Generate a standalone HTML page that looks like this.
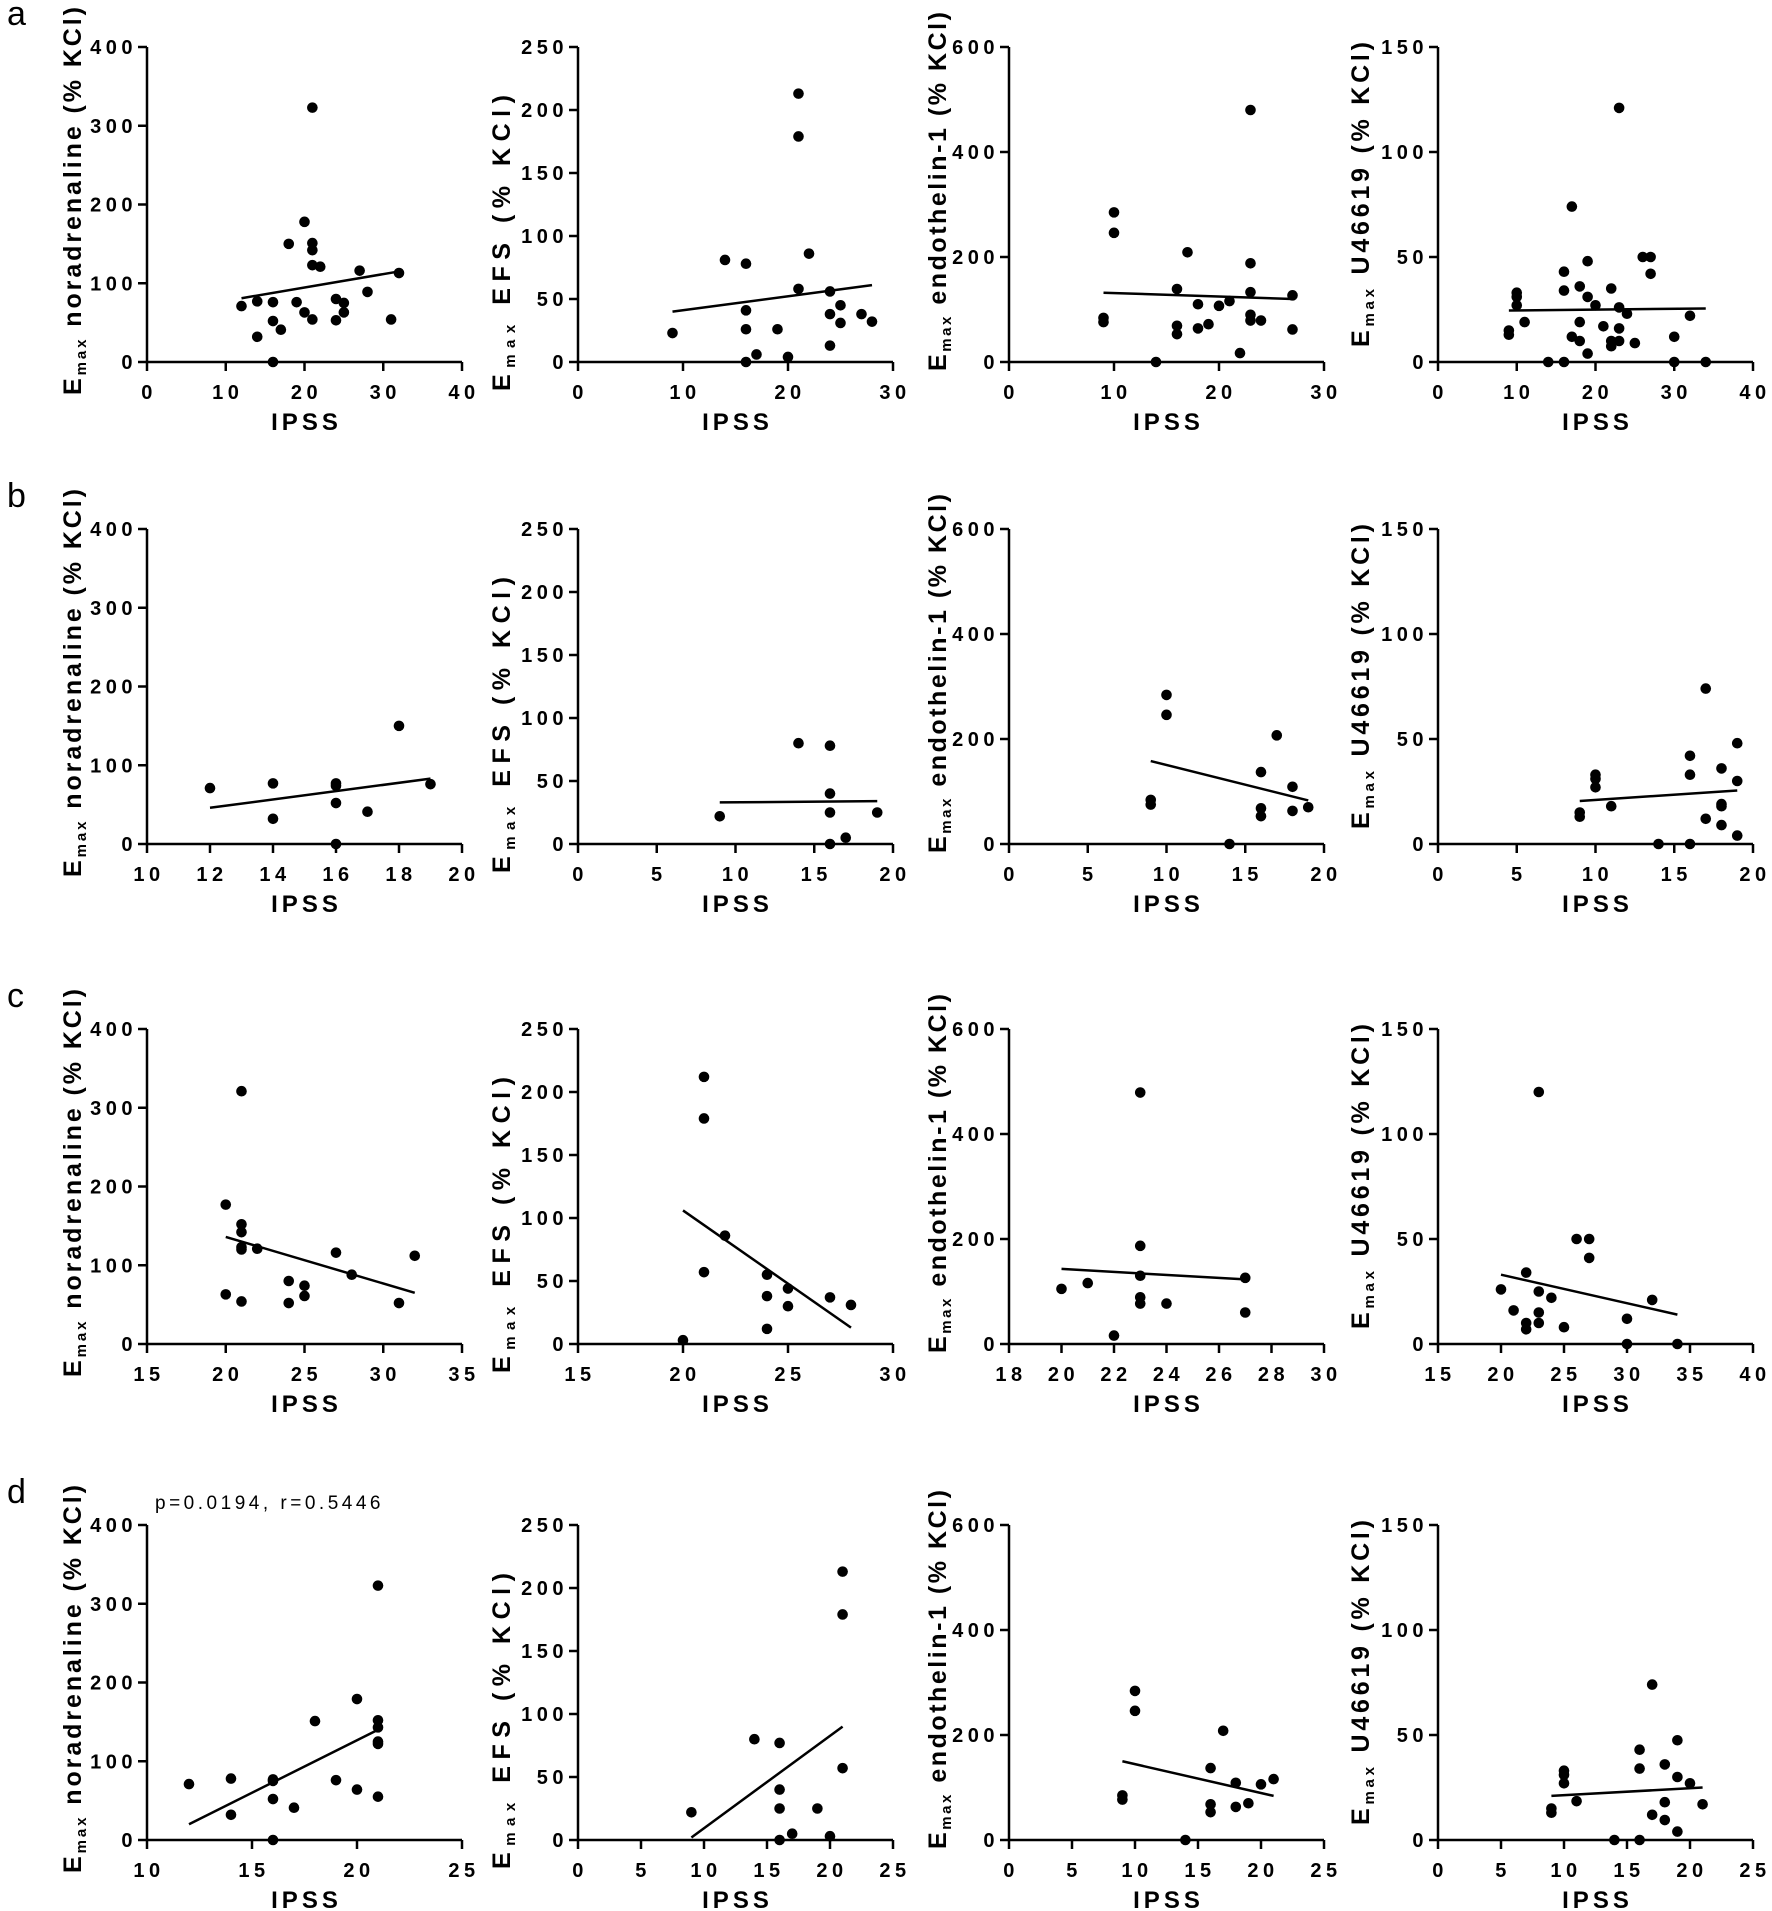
<!DOCTYPE html>
<html><head><meta charset="utf-8"><style>
html,body{margin:0;padding:0;background:#fff;}
svg{display:block;font-family:"Liberation Sans",Arial,sans-serif;}
.tk{font-weight:bold;font-size:20px;letter-spacing:4.5px;}
.yl{font-weight:bold;font-size:25px;}
.xl{font-weight:bold;font-size:24px;letter-spacing:4px;}
.pl{font-size:34px;}
</style></head><body>
<svg id="fig" width="1772" height="1911" viewBox="0 0 1772 1911" xmlns="http://www.w3.org/2000/svg"></svg>
<script>
// ---- Row a ----
const a1x=[12,14,14,16,16,16,17,18,19,20,20,21,21,21,21,21,22,24,24,25,25,27,28,31,32];
const a1y=[71,77,32,76,52,0,41,150,76,178,63,323,151,142,123,54,121,80,53,75,63,116,89,54,113];
const a1fx=[12,32], a1fy=[81,115];
const a2x=[9,14,16,16,16,16,17,19,20,21,21,21,22,24,24,24,25,25,27,28];
const a2y=[23,81,78,41,26,0,6,26,4,213,179,58,86,56,38,13,45,31,38,32];
const a2fx=[9,28], a2fy=[40,61];
const a3x=[9,9,10,10,14,16,16,16,17,18,18,19,20,21,22,23,23,23,23,23,24,27,27];
const a3y=[84,76,285,246,0,139,69,53,209,110,64,72,107,116,17,480,188,133,90,79,79,127,62];
const a3fx=[9,27], a3fy=[132,120];
const a4x=[9,9,10,10,10,11,14,16,16,16,17,17,18,18,18,19,19,19,20,21,22,22,22,23,23,23,23,24,25,26,27,27,30,30,32,34];
const a4y=[15,13,33,31,27,19,0,43,34,0,74,12,36,19,10,48,31,4,27,17,35,10,7.5,121,26,16,10,23,9,50,50,42,12,0,22,0];
const a4fx=[9,34], a4fy=[24.5,25.5];
// ---- Row b ----
const b1x=[12,14,14,16,16,16,16,17,18,19];
const b1y=[71,77,32,77,74,52,0,41,150,76];
const b1fx=[12,19], b1fy=[46,83];
const b2x=[9,14,16,16,16,16,17,19];
const b2y=[22,80,78,40,25,0,5,25];
const b2fx=[9,19], b2fy=[33,34];
const b3x=[9,9,10,10,14,16,16,16,17,18,18,19];
const b3y=[84,75,284,246,0,137,68,53,207,109,63,70];
const b3fx=[9,19], b3fy=[158,83];
const b4x=[9,9,10,10,10,11,14,16,16,16,17,17,18,18,18,18,19,19,19];
const b4y=[15,13,33,31,27,18,0,42,33,0,74,12,36,19,18,9,48,30,4];
const b4fx=[9,19], b4fy=[20.5,25.5];
// ---- Row c ----
const c1x=[20,20,21,21,21,21,21,21,22,24,24,25,25,27,28,31,32];
const c1y=[177,63,321,152,142,123,120,54,121,80,52,74,61,116,88,52,112];
const c1fx=[20,32], c1fy=[136,65];
const c2x=[20,21,21,21,22,24,24,24,25,25,27,28];
const c2y=[3,212,179,57,86,55,38,12,44,30,37,31];
const c2fx=[20,28], c2fy=[106,13];
const c3x=[20,21,22,23,23,23,23,23,24,27,27];
const c3y=[105,116,16,479,187,130,89,77,77,126,60];
const c3fx=[20,27], c3fy=[143,123];
const c4x=[20,21,22,22,22,23,23,23,23,24,25,26,27,27,30,30,32,34];
const c4y=[26,16,34,10,7,120,25,15,10,22,8,50,50,41,12,0,21,0];
const c4fx=[20,34], c4fy=[33,14];
// ---- Row d ----
const d1x=[12,14,14,16,16,16,16,17,18,19,20,20,21,21,21,21,21,21];
const d1y=[71,78,32,77,75,52,0,41,151,76,179,64,323,152,143,125,122,55];
const d1fx=[12,21], d1fy=[20,140];
const d2x=[9,14,16,16,16,16,17,19,20,21,21,21];
const d2y=[22,80,77,40,25,0,5,25,3,213,179,57];
const d2fx=[9,21], d2fy=[2,90];
const d3x=[9,9,10,10,14,16,16,16,17,18,18,19,20,21];
const d3y=[85,77,284,246,0,137,68,53,208,109,63,70,106,116];
const d3fx=[9,21], d3fy=[150,84];
const d4x=[9,9,10,10,10,11,14,16,16,16,17,17,18,18,18,19,19,19,20,21];
const d4y=[15,13,33,31,27,18.5,0,43,34,0,74,12,36,18,9.5,47.5,30,4,27,17];
const d4fx=[9,21], d4fy=[21,25];
// ---- Axes ----
const yTicks1=[0,100,200,300,400];
const yTicks2=[0,50,100,150,200,250];
const yTicks3=[0,200,400,600];
const yTicks4=[0,50,100,150];
const xTicksA1=[0,10,20,30,40], xTicksA2=[0,10,20,30], xTicksA3=[0,10,20,30], xTicksA4=[0,10,20,30,40];
const xTicksB1=[10,12,14,16,18,20], xTicksB2=[0,5,10,15,20], xTicksB3=[0,5,10,15,20], xTicksB4=[0,5,10,15,20];
const xTicksC1=[15,20,25,30,35], xTicksC2=[15,20,25,30], xTicksC3=[18,20,22,24,26,28,30], xTicksC4=[15,20,25,30,35,40];
const xTicksD1=[10,15,20,25], xTicksD2=[0,5,10,15,20,25], xTicksD3=[0,5,10,15,20,25], xTicksD4=[0,5,10,15,20,25];
const yNames=["noradrenaline","EFS","endothelin-1","U46619"];
const rowLetters=["a","b","c","d"];

const NS="http://www.w3.org/2000/svg";
const svg=document.getElementById('fig');
const colX=[147,578,1009,1438], rowTop=[47,529,1029,1525], W=315, H=315;
const labStart=[348,344,324,300], labLen=[388,296,359,305], labOff=[-75,-77,-72,-78];
function mk(tag,attrs,parent){const e=document.createElementNS(NS,tag);for(const k in attrs)e.setAttribute(k,attrs[k]);(parent||svg).appendChild(e);return e;}

function panel(r,c,xs,ys,fx,fy,xt,yt,id){
  const g=mk('g',{});
  
  
  const x0=colX[c], y0=rowTop[r]+H, xmin=xt[0], xmax=xt[xt.length-1], ymax=yt[yt.length-1];
  const sx=v=>x0+(v-xmin)/(xmax-xmin)*W, sy=v=>y0-v/ymax*H;
  const ya=mk('line',{x1:x0,y1:y0,x2:x0,y2:rowTop[r],stroke:'#000','stroke-width':2.5},g);
  
  
  const xa=mk('line',{x1:x0,y1:y0,x2:x0+W,y2:y0,stroke:'#000','stroke-width':2.5},g);
  
  
  yt.forEach(v=>{
    mk('line',{x1:x0-9,y1:sy(v),x2:x0,y2:sy(v),stroke:'#000','stroke-width':2.5},g);
    const t=mk('text',{x:x0-10,y:sy(v)+7,'text-anchor':'end',class:'tk'},g);t.textContent=v;
    
    
  });
  xt.forEach(v=>{
    mk('line',{x1:sx(v),y1:y0,x2:sx(v),y2:y0+9,stroke:'#000','stroke-width':2.5},g);
    const t=mk('text',{x:sx(v)+2,y:y0+37,'text-anchor':'middle',class:'tk'},g);t.textContent=v;
    
    
  });
  const xl=mk('text',{x:x0+W/2+2,y:y0+68,'text-anchor':'middle',class:'xl'},g);xl.textContent='IPSS';
  
  
  const cx=x0+labOff[c], cy=rowTop[r]+labStart[c];
  const yl=mk('text',{x:cx,y:cy,'text-anchor':'start',class:'yl',transform:`rotate(-90 ${cx} ${cy})`,dy:9,textLength:labLen[c],lengthAdjust:'spacing'},g);
  
  
  const s1=mk('tspan',{},yl);s1.textContent='E';
  const s2=mk('tspan',{dy:5,'font-size':15},yl);s2.textContent='max';
  const s3=mk('tspan',{dy:-5},yl);s3.textContent=' '+yNames[c]+' (% KCl)';
  const fl=mk('line',{x1:sx(fx[0]),y1:sy(fy[0]),x2:sx(fx[1]),y2:sy(fy[1]),stroke:'#000','stroke-width':2.5},g);
  
  
  xs.forEach((v,i)=>{
    const p=mk('circle',{cx:sx(v),cy:sy(ys[i]),r:5.3,fill:'#000'},g);
    
    
  });
}
const yT=[yTicks1,yTicks2,yTicks3,yTicks4];
panel(0,0,a1x,a1y,a1fx,a1fy,xTicksA1,yT[0],'a1');
panel(0,1,a2x,a2y,a2fx,a2fy,xTicksA2,yT[1],'a2');
panel(0,2,a3x,a3y,a3fx,a3fy,xTicksA3,yT[2],'a3');
panel(0,3,a4x,a4y,a4fx,a4fy,xTicksA4,yT[3],'a4');
panel(1,0,b1x,b1y,b1fx,b1fy,xTicksB1,yT[0],'b1');
panel(1,1,b2x,b2y,b2fx,b2fy,xTicksB2,yT[1],'b2');
panel(1,2,b3x,b3y,b3fx,b3fy,xTicksB3,yT[2],'b3');
panel(1,3,b4x,b4y,b4fx,b4fy,xTicksB4,yT[3],'b4');
panel(2,0,c1x,c1y,c1fx,c1fy,xTicksC1,yT[0],'c1');
panel(2,1,c2x,c2y,c2fx,c2fy,xTicksC2,yT[1],'c2');
panel(2,2,c3x,c3y,c3fx,c3fy,xTicksC3,yT[2],'c3');
panel(2,3,c4x,c4y,c4fx,c4fy,xTicksC4,yT[3],'c4');
panel(3,0,d1x,d1y,d1fx,d1fy,xTicksD1,yT[0],'d1');
panel(3,1,d2x,d2y,d2fx,d2fy,xTicksD2,yT[1],'d2');
panel(3,2,d3x,d3y,d3fx,d3fy,xTicksD3,yT[2],'d3');
panel(3,3,d4x,d4y,d4fx,d4fy,xTicksD4,yT[3],'d4');
rowLetters.forEach((L,r)=>{
  const t=mk('text',{x:7,y:rowTop[r]-22,class:'pl'});t.textContent=L;
  
  
});
const pv=mk('text',{x:155,y:1509,'font-size':19,'letter-spacing':2.5,textLength:228});
pv.textContent='p=0.0194, r=0.5446';


</script>
</body></html>
